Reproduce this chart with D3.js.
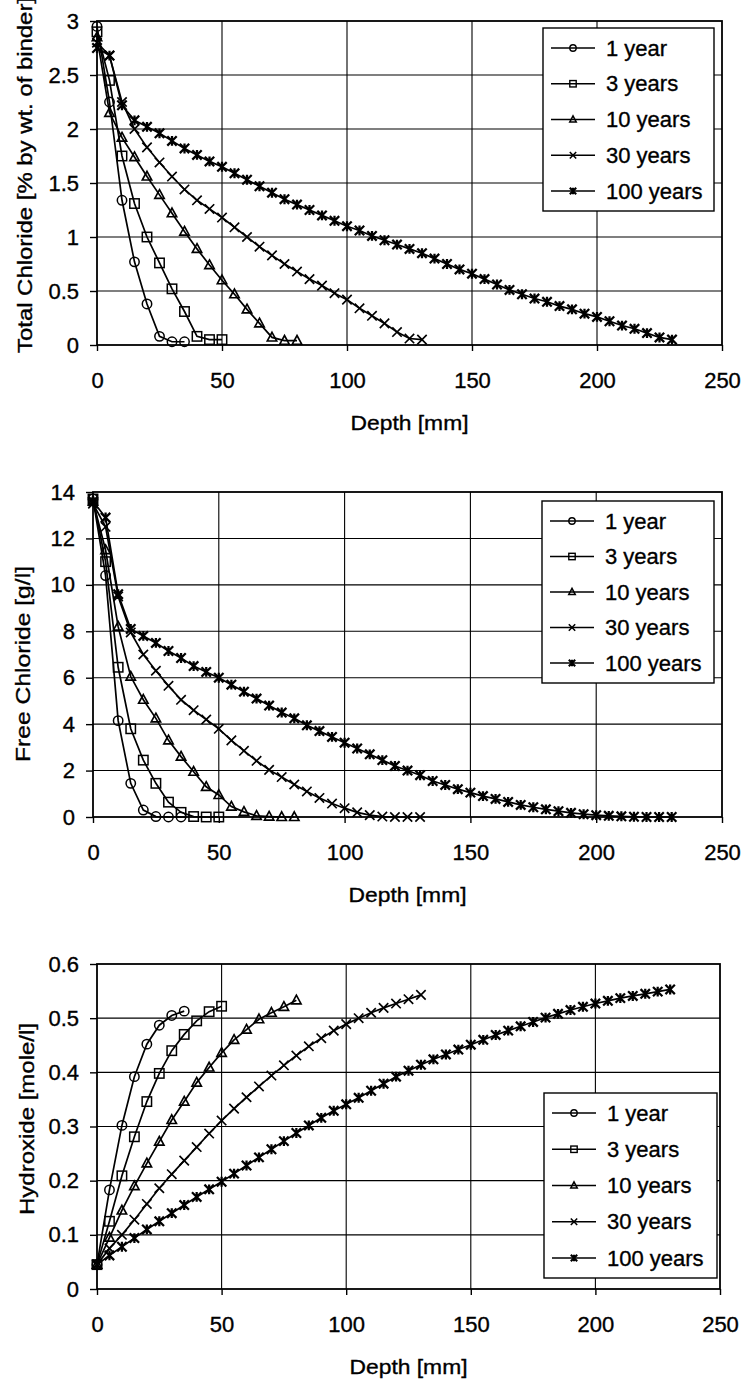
<!DOCTYPE html>
<html>
<head>
<meta charset="utf-8">
<script src="https://cdn.jsdelivr.net/npm/d3@7/dist/d3.min.js"></script>
<style>
  html, body { margin: 0; padding: 0; background: #fff; }
  svg { display: block; }
  text { font-family: 'Liberation Sans', Arial, sans-serif; fill: #000; stroke: #000; stroke-width: 0.35px; }
</style>
</head>
<body>
<svg id="chart" width="745" height="1379"></svg>
<script>
// ---------------- DATA ----------------
const seriesNames = ["1 year", "3 years", "10 years", "30 years", "100 years"];
const markerTypes = ["circle", "square", "triangle", "x", "star"];

const xTicks = [0, 50, 100, 150, 200, 250];
const xTickLabels = ["0", "50", "100", "150", "200", "250"];

const depth1yr = [0, 5, 10, 15, 20, 25, 30, 35];
const depth3yr = [0, 5, 10, 15, 20, 25, 30, 35, 40, 45, 50];
const depth10yr = [0, 5, 10, 15, 20, 25, 30, 35, 40, 45, 50, 55, 60, 65, 70, 75, 80];
const depth30yr = [0, 5, 10, 15, 20, 25, 30, 35, 40, 45, 50, 55, 60, 65, 70, 75, 80, 85, 90, 95, 100, 105, 110, 115, 120, 125, 130];
const depth100yr = [0, 5, 10, 15, 20, 25, 30, 35, 40, 45, 50, 55, 60, 65, 70, 75, 80, 85, 90, 95, 100, 105, 110, 115, 120, 125, 130, 135, 140, 145, 150, 155, 160, 165, 170, 175, 180, 185, 190, 195, 200, 205, 210, 215, 220, 225, 230];

// Total chloride [% by wt. of binder]
const totalCl1yr = [2.95, 2.25, 1.34, 0.77, 0.38, 0.08, 0.03, 0.03];
const totalCl3yr = [2.9, 2.45, 1.75, 1.31, 1.0, 0.76, 0.52, 0.31, 0.08, 0.05, 0.05];
const totalCl10yr = [2.85, 2.15, 1.92, 1.74, 1.56, 1.39, 1.22, 1.05, 0.89, 0.74, 0.6, 0.47, 0.33, 0.2, 0.07, 0.04, 0.04];
const totalCl30yr = [2.8, 2.68, 2.25, 2.0, 1.83, 1.69, 1.56, 1.44, 1.34, 1.26, 1.18, 1.09, 1.0, 0.91, 0.83, 0.75, 0.68, 0.61, 0.55, 0.48, 0.42, 0.34, 0.27, 0.2, 0.12, 0.06, 0.05];
const totalCl100yr = [2.75, 2.68, 2.22, 2.08, 2.02, 1.96, 1.89, 1.82, 1.76, 1.7, 1.65, 1.59, 1.53, 1.47, 1.41, 1.35, 1.3, 1.25, 1.2, 1.15, 1.1, 1.06, 1.01, 0.97, 0.93, 0.89, 0.85, 0.8, 0.75, 0.7, 0.66, 0.61, 0.56, 0.51, 0.47, 0.43, 0.4, 0.36, 0.33, 0.29, 0.26, 0.22, 0.18, 0.15, 0.11, 0.07, 0.05];

// Free chloride [g/l]
const freeCl1yr = [13.7, 10.4, 4.15, 1.45, 0.3, 0.02, 0, 0];
const freeCl3yr = [13.7, 11.0, 6.45, 3.8, 2.45, 1.45, 0.64, 0.2, 0.02, 0, 0];
const freeCl10yr = [13.6, 11.5, 8.2, 6.05, 5.05, 4.25, 3.3, 2.6, 1.95, 1.3, 0.95, 0.45, 0.22, 0.05, 0.02, 0, 0];
const freeCl30yr = [13.5, 12.5, 9.5, 7.95, 7.0, 6.3, 5.65, 5.05, 4.6, 4.2, 3.8, 3.3, 2.85, 2.42, 2.03, 1.72, 1.4, 1.1, 0.82, 0.58, 0.38, 0.2, 0.08, 0.02, 0, 0, 0];
const freeCl100yr = [13.6, 12.9, 9.6, 8.1, 7.8, 7.5, 7.15, 6.85, 6.5, 6.25, 6.0, 5.7, 5.4, 5.1, 4.8, 4.5, 4.25, 3.95, 3.7, 3.45, 3.2, 2.95, 2.7, 2.45, 2.2, 2.0, 1.8, 1.55, 1.38, 1.2, 1.05, 0.9, 0.78, 0.65, 0.52, 0.42, 0.33, 0.25, 0.18, 0.12, 0.08, 0.05, 0.03, 0.01, 0, 0, 0];

// Hydroxide [mole/l]
const hydroxide1yr = [0.045, 0.183, 0.302, 0.392, 0.452, 0.487, 0.505, 0.513];
const hydroxide3yr = [0.045, 0.125, 0.209, 0.281, 0.346, 0.398, 0.44, 0.47, 0.495, 0.512, 0.522];
const hydroxide10yr = [0.045, 0.095, 0.145, 0.19, 0.232, 0.272, 0.312, 0.346, 0.381, 0.409, 0.436, 0.46, 0.479, 0.498, 0.51, 0.521, 0.533];
const hydroxide30yr = [0.045, 0.075, 0.1, 0.128, 0.157, 0.186, 0.212, 0.237, 0.262, 0.287, 0.311, 0.333, 0.354, 0.374, 0.394, 0.413, 0.431, 0.448, 0.463, 0.477, 0.489, 0.5, 0.51, 0.519, 0.527, 0.535, 0.543];
const hydroxide100yr = [0.045, 0.062, 0.078, 0.094, 0.11, 0.125, 0.14, 0.155, 0.17, 0.184, 0.198, 0.213, 0.228, 0.243, 0.258, 0.273, 0.288, 0.302, 0.316, 0.329, 0.341, 0.353, 0.366, 0.379, 0.392, 0.403, 0.414, 0.424, 0.433, 0.442, 0.451, 0.46, 0.469, 0.477, 0.485, 0.493, 0.501, 0.508, 0.515, 0.521, 0.527, 0.532, 0.537, 0.541, 0.545, 0.549, 0.553];

const yTicksTotal = [0, 0.5, 1, 1.5, 2, 2.5, 3];
const yTicksFree = [0, 2, 4, 6, 8, 10, 12, 14];
const yTicksHydroxide = [0, 0.1, 0.2, 0.3, 0.4, 0.5, 0.6];

const depthSets = [depth1yr, depth3yr, depth10yr, depth30yr, depth100yr];

// ---------------- DRAWING ----------------
const svg = d3.select("#chart");
svg.append("rect").attr("width", 745).attr("height", 1379).attr("fill", "#fff");

function markerPath(type, s) {
  switch (type) {
    case "triangle": return `M0,${-s * 1.1}L${s},${s * 0.75}L${-s},${s * 0.75}Z`;
    case "x": return `M${-s},${-s}L${s},${s}M${-s},${s}L${s},${-s}`;
    case "star": return `M${-s},${-s}L${s},${s}M${-s},${s}L${s},${-s}M0,${-s * 1.05}L0,${s * 1.05}`;
    default: return "";
  }
}

function drawMarker(sel, type, cx, cy, s, sw) {
  if (type === "circle") {
    sel.append("circle").attr("cx", cx).attr("cy", cy).attr("r", s)
      .attr("fill", "none").attr("stroke", "#000").attr("stroke-width", sw);
  } else if (type === "square") {
    sel.append("rect").attr("x", cx - s).attr("y", cy - s).attr("width", 2 * s).attr("height", 2 * s)
      .attr("fill", "none").attr("stroke", "#000").attr("stroke-width", sw);
  } else {
    sel.append("path").attr("d", markerPath(type, s)).attr("transform", `translate(${cx},${cy})`)
      .attr("fill", "none").attr("stroke", "#000").attr("stroke-width", type === "star" ? sw * 1.5 : sw * 1.1);
  }
}

function drawChart(cfg) {
  const g = svg.append("g");
  const x = d3.scaleLinear().domain([0, 250]).range([cfg.left, cfg.right]);
  const y = d3.scaleLinear().domain([0, cfg.ymax]).range([cfg.bottom, cfg.top]);

  // grid lines
  g.selectAll("line.vgrid").data(xTicks.slice(1, -1)).join("line")
    .attr("x1", d => x(d)).attr("x2", d => x(d)).attr("y1", cfg.top).attr("y2", cfg.bottom)
    .attr("stroke", "#000").attr("stroke-width", 1.1);
  g.selectAll("line.hgrid").data(cfg.yTicks.slice(1, -1)).join("line")
    .attr("x1", cfg.left).attr("x2", cfg.right).attr("y1", d => y(d)).attr("y2", d => y(d))
    .attr("stroke", "#000").attr("stroke-width", 1.1);

  // border
  g.append("rect").attr("x", cfg.left).attr("y", cfg.top)
    .attr("width", cfg.right - cfg.left).attr("height", cfg.bottom - cfg.top)
    .attr("fill", "none").attr("stroke", "#000").attr("stroke-width", 1.8);

  // axes
  const yAxis = d3.axisLeft(y).tickValues(cfg.yTicks).tickFormat(d => String(d)).tickSize(7).tickPadding(11);
  const ya = g.append("g").attr("transform", `translate(${cfg.left},0)`).call(yAxis);
  ya.select(".domain").remove();
  ya.selectAll("line").attr("stroke", "#000").attr("stroke-width", 1.4);
  ya.selectAll("text").attr("font-size", 22).attr("font-family", "'Liberation Sans', Arial, sans-serif");

  const xAxis = d3.axisBottom(x).tickValues(xTicks).tickFormat((d, i) => xTickLabels[i]).tickSize(6).tickPadding(21);
  const xa = g.append("g").attr("transform", `translate(0,${cfg.bottom})`).call(xAxis);
  xa.select(".domain").remove();
  xa.selectAll("line").attr("stroke", "#000").attr("stroke-width", 1.4);
  xa.selectAll("text").attr("font-size", 22).attr("font-family", "'Liberation Sans', Arial, sans-serif");

  // axis titles
  g.append("text").attr("x", (cfg.left + cfg.right) / 2).attr("y", cfg.bottom + 85)
    .attr("text-anchor", "middle").attr("font-size", 21)
    .attr("textLength", 118).attr("lengthAdjust", "spacingAndGlyphs").text("Depth [mm]");
  const yt = g.append("text")
    .attr("transform", `translate(${cfg.ytitleX},${cfg.ytitleY}) rotate(-90)`)
    .attr("text-anchor", cfg.ytitleAnchor).attr("font-size", 21).text(cfg.ytitle);
  if (cfg.ytitleLen) yt.attr("textLength", cfg.ytitleLen).attr("lengthAdjust", "spacingAndGlyphs");

  // series
  const line = d3.line().x(d => x(d[0])).y(d => y(d[1]));
  cfg.values.forEach((vals, i) => {
    const pts = depthSets[i].map((d, j) => [d, vals[j]]);
    g.append("path").datum(pts).attr("d", line)
      .attr("fill", "none").attr("stroke", "#000").attr("stroke-width", 1.7);
    const mg = g.append("g");
    pts.forEach(p => drawMarker(mg, markerTypes[i], x(p[0]), y(p[1]), 4.7, 1.5));
  });

  // legend
  const L = cfg.legend;
  const lg = g.append("g");
  lg.append("rect").attr("x", L.x).attr("y", L.y).attr("width", L.w).attr("height", L.h)
    .attr("fill", "#fff").attr("stroke", "#000").attr("stroke-width", 1.4);
  seriesNames.forEach((name, i) => {
    const cy = L.y + 20 + i * (L.h - 40) / 4;
    lg.append("line").attr("x1", L.x + 8).attr("x2", L.x + 52).attr("y1", cy).attr("y2", cy)
      .attr("stroke", "#000").attr("stroke-width", 1.7);
    drawMarker(lg, markerTypes[i], L.x + 30, cy, 3.2, 1.4);
    lg.append("text").attr("x", L.x + 63).attr("y", cy + 7.5).attr("font-size", 22).text(name);
  });
}

drawChart({
  top: 21, bottom: 345, left: 97, right: 722, ymax: 3, yTicks: yTicksTotal,
  values: [totalCl1yr, totalCl3yr, totalCl10yr, totalCl30yr, totalCl100yr],
  ytitle: "Total Chloride [% by wt. of binder]", ytitleX: 32, ytitleY: 353, ytitleAnchor: "start", ytitleLen: 356,
  legend: { x: 543, y: 28, w: 171, h: 183 }
});

drawChart({
  top: 492, bottom: 817, left: 93, right: 722, ymax: 14, yTicks: yTicksFree,
  values: [freeCl1yr, freeCl3yr, freeCl10yr, freeCl30yr, freeCl100yr],
  ytitle: "Free Chloride [g/l]", ytitleX: 30, ytitleY: 664, ytitleAnchor: "middle", ytitleLen: 196,
  legend: { x: 542, y: 501, w: 172, h: 182 }
});

drawChart({
  top: 964, bottom: 1289, left: 97, right: 720, ymax: 0.6, yTicks: yTicksHydroxide,
  values: [hydroxide1yr, hydroxide3yr, hydroxide10yr, hydroxide30yr, hydroxide100yr],
  ytitle: "Hydroxide [mole/l]", ytitleX: 34, ytitleY: 1119, ytitleAnchor: "middle", ytitleLen: 192,
  legend: { x: 544, y: 1093, w: 173, h: 185 }
});
</script>
</body>
</html>
